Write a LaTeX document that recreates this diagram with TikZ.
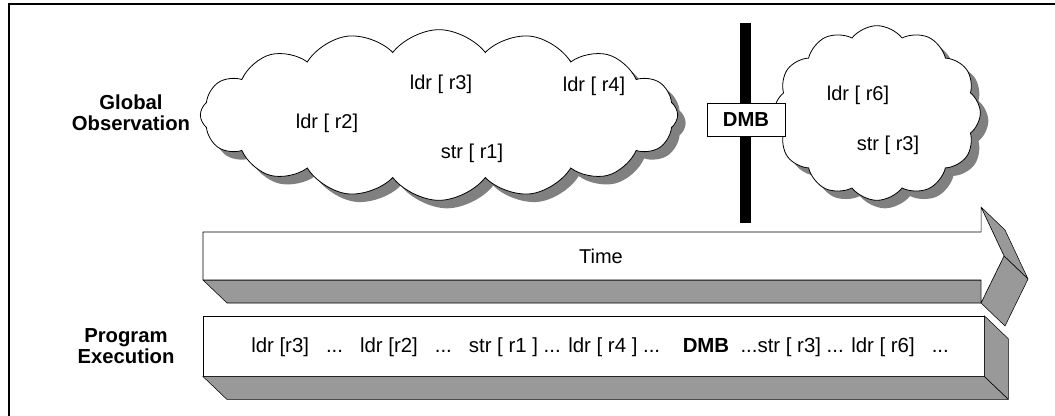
\documentclass[tikz,border=0pt]{standalone}
\usepackage{fontspec}
\setmainfont{Liberation Sans}
\usetikzlibrary{shapes.symbols,shadows,positioning,calc}
\usepackage{xcolor}
\definecolor{facegray}{RGB}{153,153,153}
\definecolor{shadegray}{RGB}{128,128,128}
\tikzset{
  puff/.style={cloud, draw, fill=white, line width=0.6pt, cloud puff arc=105,
    drop shadow={shadow xshift=6pt, shadow yshift=-6pt, fill=shadegray, opacity=1}},
  op/.style={font=\fontsize{15}{18}\selectfont, inner sep=0pt},
  sidelabel/.style={font=\fontsize{15.2}{16}\selectfont\bfseries, align=center},
  face/.style={draw, fill=facegray, line join=round},
  front/.style={draw, fill=white, line join=round}
}

\begin{document}
\begin{tikzpicture}[x=0.75pt,y=-0.75pt]
      \useasboundingbox (0,0) rectangle (1055,416);
      \draw[line width=1.5pt] (9,416) -- (9,4) -- (1055,4);

      % labels on the left
      \node[sidelabel] (glob) at (131,113) {Global\\Observation};
      \node[sidelabel] (prog) at (126,346) {Program\\Execution};

      % observation clouds
      \node[puff, cloud puffs=16, aspect=2.8, minimum width=358pt, minimum height=128pt] (before) at (439,115) {};
      \node[puff, cloud puffs=12, aspect=1.2, minimum width=155pt, minimum height=131pt] (after) at (877,113) {};

      \node[op] (o2) at (327,123) {ldr [ r2]};
      \node[op] (o3) at (441,84) {ldr [ r3]};
      \node[op] (o4) at (594,86) {ldr [ r4]};
      \node[op] (o1) at (472,153) {str [ r1]};
      \node[op] (o6) at (858,95) {ldr [ r6]};
      \node[op] (o7) at (888,145) {str [ r3]};

      % barrier
      \fill (740,23) rectangle (751,223);
      \node[draw, fill=white, font=\fontsize{15.2}{18}\selectfont\bfseries, minimum width=58.5pt, minimum height=24.75pt] (dmb) at (746,119.5) {DMB};

      % time arrow
      \draw[face] (203,280) -- (981,280) -- (981,303) -- (227,303) -- cycle;
      \draw[face] (981,207) -- (1005,230) -- (1028,279) -- (1004,256) -- cycle;
      \draw[face] (1004,256) -- (1028,279) -- (1005,326) -- (981,303) -- cycle;
      \draw[front] (203,232) -- (981,232) -- (981,207) -- (1004,256) -- (981,303) -- (981,280) -- (203,280) -- cycle;
      \node[op] (time) at (601,256) {Time};

      % program order
      \node[front, minimum width=585.75pt, minimum height=45pt, inner sep=0pt] (bar) at (593.5,346) {};
      \draw[face] (bar.south west) -- (bar.south east) -- ++(24,23) -- ($(bar.south west)+(24,23)$) -- cycle;
      \draw[face] (bar.north east) -- ++(24,23) -- ($(bar.south east)+(24,23)$) -- (bar.south east) -- cycle;
      \node[op, font=\fontsize{15.3}{18}\selectfont] (seq) at (600,347) {ldr [r3]~~~...~~~ldr [r2]~~~...~~~str [ r1 ] ... ldr [ r4 ] ...~~~~\textbf{DMB}~~...str [ r3] ... ldr [ r6]~~~...};
\end{tikzpicture}
\end{document}
